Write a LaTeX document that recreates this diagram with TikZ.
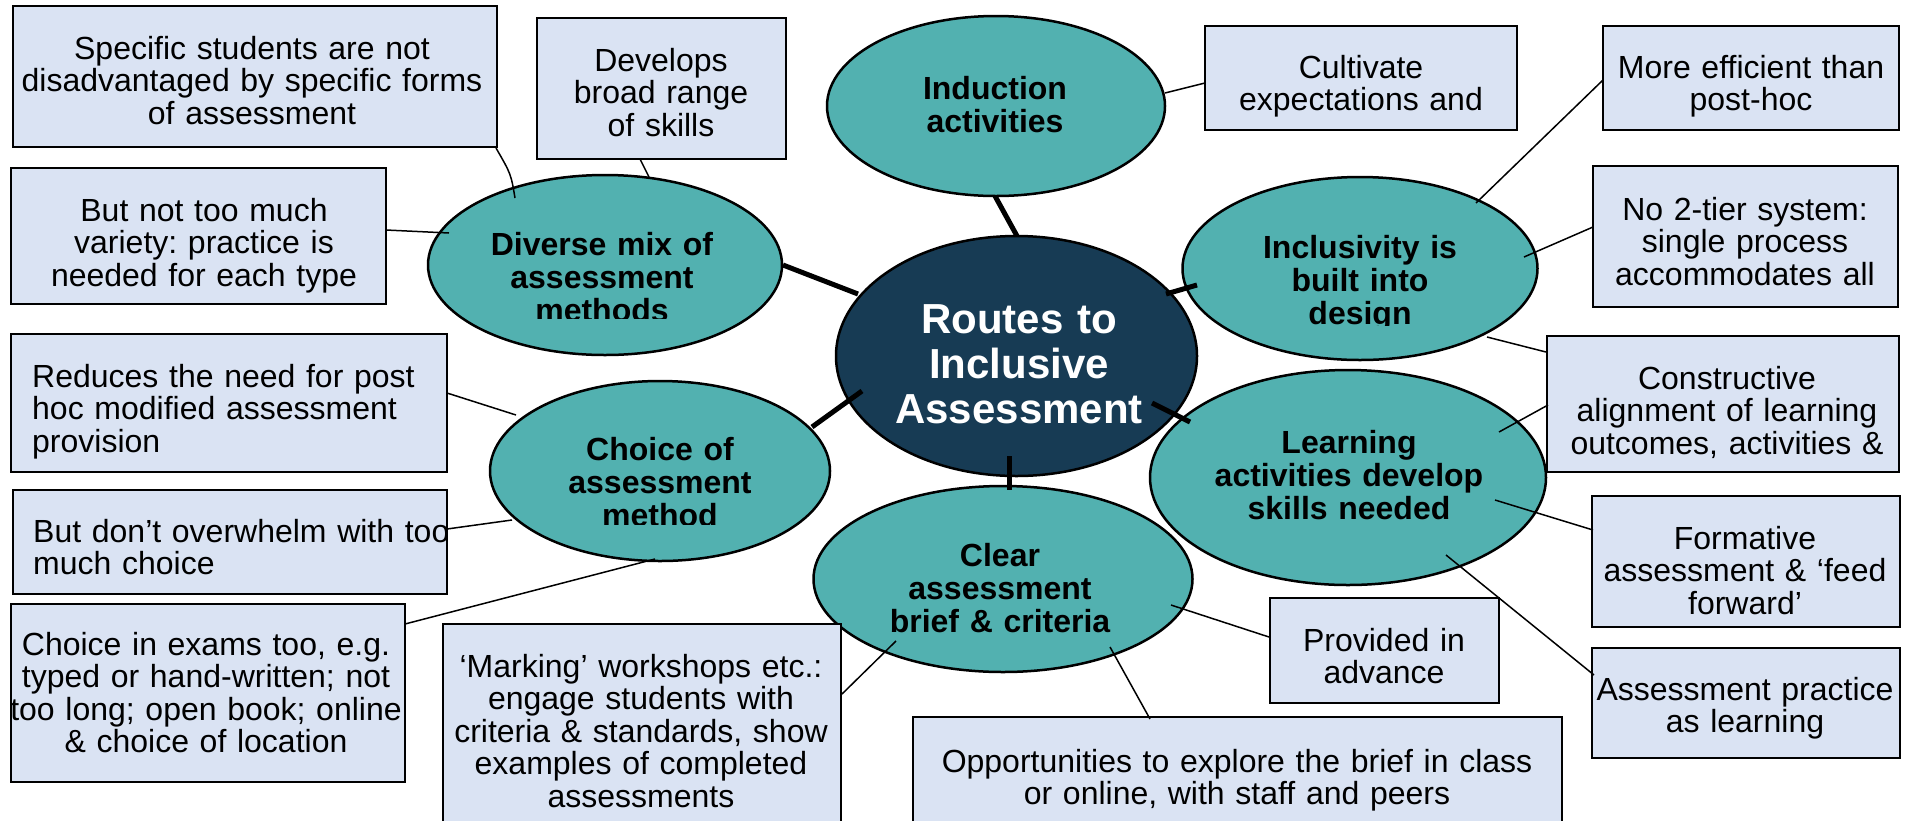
\documentclass[tikz,border=0pt]{standalone}
\usepackage{fontspec}
\setmainfont{Liberation Sans}
\usetikzlibrary{shapes.geometric}
\definecolor{boxfill}{HTML}{DAE3F3}
\definecolor{tealfill}{HTML}{52B1B0}
\definecolor{navyfill}{HTML}{173B54}
\frenchspacing
\begin{document}
\begin{tikzpicture}[x=1pt,y=-1pt,
  bx/.style={rectangle, draw=black, line width=2pt, fill=boxfill, inner sep=0pt},
  el/.style={ellipse, draw=black, line width=2.5pt, fill=tealfill, inner sep=0pt},
  cel/.style={ellipse, draw=black, line width=2.5pt, fill=navyfill, inner sep=0pt},
  tx/.style={font=\fontsize{32pt}{32.5pt}\selectfont, align=center, text width=700pt, anchor=base, inner sep=0pt},
  txl/.style={font=\fontsize{32pt}{32.5pt}\selectfont, align=left, text width=600pt, anchor=base west, inner sep=0pt},
  etx/.style={font=\bfseries\fontsize{32pt}{33pt}\selectfont, align=center, text width=600pt, anchor=base, inner sep=0pt},
  ctx/.style={font=\bfseries\fontsize{42pt}{45pt}\selectfont, text=white, align=center, text width=600pt, anchor=base, inner sep=0pt},
  ln/.style={draw=black, line width=1.5pt},
  thk/.style={draw=black, line width=5pt}]
\useasboundingbox (0,0) rectangle (1905,820);
\clip (0,0) rectangle (1905,820);

% ellipses
\node[el, minimum width=354pt, minimum height=180pt] (eDiv) at (605,265) {};
\node[el, minimum width=338pt, minimum height=180pt] (eInd) at (996,106) {};
\node[el, minimum width=355pt, minimum height=183pt] (eInc) at (1360,268.5) {};
\node[el, minimum width=340pt, minimum height=180pt] (eCho) at (660,471) {};
\node[el, minimum width=379pt, minimum height=186pt] (eCle) at (1003,579) {};
\node[el, minimum width=396pt, minimum height=215pt] (eLea) at (1348,477.5) {};
\node[cel, minimum width=361pt, minimum height=240pt] (eCen) at (1016.5,356) {};

% ellipse texts
\begin{scope}
  \clip (420,170) rectangle (790,318);
  \node[etx] (tDiv) at (602,255) {Diverse mix of\\assessment\\methods};
\end{scope}
\node[etx] (tInd) at (995,99) {Induction\\activities};
\begin{scope}
  \clip (1180,170) rectangle (1540,325);
  \node[etx] (tInc) at (1360,258) {Inclusivity is\\built into\\design};
\end{scope}
\begin{scope}
  \clip (485,380) rectangle (835,524);
  \node[etx] (tCho) at (660,460) {Choice of\\assessment\\method};
\end{scope}
\node[etx] (tLea) at (1349,453) {Learning\\activities develop\\skills needed};
\node[etx] (tCle) at (1000,566) {Clear\\assessment\\brief \& criteria};
\node[ctx] (tCen) at (1019,333) {Routes to\\Inclusive\\Assessment};

% boxes
\node[bx, minimum width=484pt, minimum height=141pt] (bSpec) at (255,76.5) {};
\node[bx, minimum width=249pt, minimum height=141pt] (bDev) at (661.5,88.5) {};
\node[bx, minimum width=375pt, minimum height=136pt] (bBut) at (198.5,236) {};
\node[bx, minimum width=312pt, minimum height=104pt] (bCult) at (1361,78) {};
\node[bx, minimum width=296pt, minimum height=104pt] (bEff) at (1751,78) {};
\node[bx, minimum width=305pt, minimum height=141pt] (bTier) at (1745.5,236.5) {};
\node[bx, minimum width=436pt, minimum height=138pt] (bRed) at (229,403) {};
\node[bx, minimum width=434pt, minimum height=104pt] (bOver) at (230,542) {};
\node[bx, minimum width=394pt, minimum height=178pt] (bExam) at (208,693) {};
\node[bx, minimum width=398pt, minimum height=216pt] (bMark) at (642,732) {};
\node[bx, minimum width=352pt, minimum height=136pt] (bCons) at (1723,404) {};
\node[bx, minimum width=308pt, minimum height=131pt] (bForm) at (1746,561.5) {};
\node[bx, minimum width=229pt, minimum height=105pt] (bProv) at (1384.5,650.5) {};
\node[bx, minimum width=308pt, minimum height=110pt] (bPrac) at (1746,703) {};
\node[bx, minimum width=649pt, minimum height=123pt] (bOpp) at (1237.5,778.5) {};

% box texts
\node[tx] (tSpec) at (252,59) {Specific students are not\\disadvantaged by specific forms\\of assessment};
\node[tx] (tDev) at (661,71) {Develops\\broad range\\of skills};
\node[tx] (tBut) at (204,221) {But not too much\\variety: practice is\\needed for each type};
\node[tx] (tCult) at (1361,78) {Cultivate\\expectations and};
\node[tx] (tEff) at (1751,78) {More efficient than\\post-hoc};
\node[tx] (tTier) at (1745,220) {No 2-tier system:\\single process\\accommodates all};
\node[txl] (tRed) at (32,387) {Reduces the need for post\\hoc modified assessment\\provision};
\node[txl] (tOver) at (33,542) {But don’t overwhelm with too\\much choice};
\node[tx] (tExam) at (206,655) {Choice in exams too, e.g.\\typed or hand-written; not\\too long; open book; online\\\& choice of location};
\node[tx] (tMark) at (641,677) {‘Marking’ workshops etc.:\\engage students with\\criteria \& standards, show\\examples of completed\\assessments};
\node[tx] (tCons) at (1727,389) {Constructive\\alignment of learning\\outcomes, activities \&};
\node[tx] (tForm) at (1745,549) {Formative\\assessment \& ‘feed\\forward’};
\node[tx] (tProv) at (1384,651) {Provided in\\advance};
\node[tx] (tPrac) at (1745,700) {Assessment practice\\as learning};
\node[tx] (tOpp) at (1237,772) {Opportunities to explore the brief in class\\or online, with staff and peers};

% connector end points
\coordinate (pSpecA) at (496,148);
\coordinate (pSpecB) at (515,198);
\coordinate (pDevA) at (640,159);
\coordinate (pDevB) at (649,177);
\coordinate (pButA) at (386,230);
\coordinate (pButB) at (449,233);
\coordinate (pCultA) at (1205,83);
\coordinate (pCultB) at (1165,93);
\coordinate (pEffA) at (1603,80);
\coordinate (pEffB) at (1476,203);
\coordinate (pTierA) at (1593,227);
\coordinate (pTierB) at (1524,257);
\coordinate (pConsA) at (1546,352);
\coordinate (pConsB) at (1487,337);
\coordinate (pConsC) at (1548,405);
\coordinate (pConsD) at (1499,432);
\coordinate (pFormA) at (1593,530);
\coordinate (pFormB) at (1495,500);
\coordinate (pPracA) at (1594,675);
\coordinate (pPracB) at (1446,555);
\coordinate (pProvA) at (1269,637);
\coordinate (pProvB) at (1171,605);
\coordinate (pOppA) at (1150,719);
\coordinate (pOppB) at (1110,647);
\coordinate (pMarkA) at (842,694);
\coordinate (pMarkB) at (896,641);
\coordinate (pRedA) at (447,393);
\coordinate (pRedB) at (516,415);
\coordinate (pOverA) at (447,529);
\coordinate (pOverB) at (512,520);
\coordinate (pExamA) at (405,624);
\coordinate (pExamB) at (655,559);
% thick connector ends
\coordinate (kDivA) at (783,265);
\coordinate (kDivB) at (858,294);
\coordinate (kIndA) at (995,196);
\coordinate (kIndB) at (1017,236);
\coordinate (kIncA) at (1197,285);
\coordinate (kIncB) at (1166,294);
\coordinate (kLeaA) at (1152,403);
\coordinate (kLeaB) at (1190,422);
\coordinate (kCleA) at (1009,456);
\coordinate (kCleB) at (1009,490);
\coordinate (kChoA) at (812,427);
\coordinate (kChoB) at (862,391);

% thin connectors
\draw[ln] (pSpecA) .. controls (511,174) .. (pSpecB);
\draw[ln] (pDevA) -- (pDevB);
\draw[ln] (pButA) -- (pButB);
\draw[ln] (pCultA) -- (pCultB);
\draw[ln] (pEffA) -- (pEffB);
\draw[ln] (pTierA) -- (pTierB);
\draw[ln] (pConsA) -- (pConsB);
\draw[ln] (pConsC) -- (pConsD);
\draw[ln] (pFormA) -- (pFormB);
\draw[ln] (pPracA) -- (pPracB);
\draw[ln] (pProvA) -- (pProvB);
\draw[ln] (pOppA) -- (pOppB);
\draw[ln] (pMarkA) -- (pMarkB);
\draw[ln] (pRedA) -- (pRedB);
\draw[ln] (pOverA) -- (pOverB);
\draw[ln] (pExamA) -- (pExamB);

% thick connectors
\draw[thk] (kDivA) -- (kDivB);
\draw[thk] (kIndA) -- (kIndB);
\draw[thk] (kIncA) -- (kIncB);
\draw[thk] (kLeaA) -- (kLeaB);
\draw[thk] (kCleA) -- (kCleB);
\draw[thk] (kChoA) -- (kChoB);
\end{tikzpicture}
\end{document}
